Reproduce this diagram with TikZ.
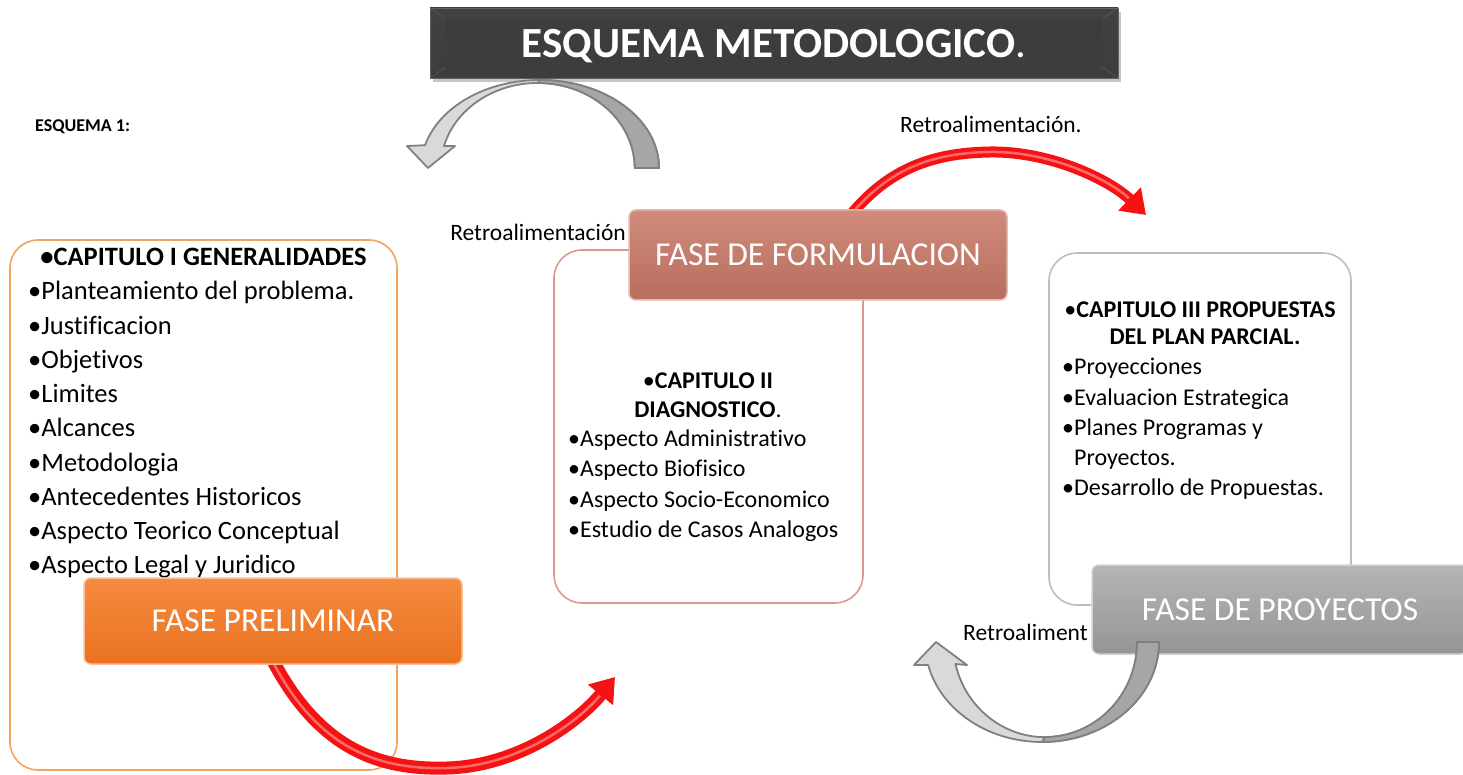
\documentclass[tikz,border=0pt]{standalone}
\usepackage{fontspec}
\setmainfont{Carlito}[Ligatures={NoCommon}]
\usetikzlibrary{arrows.meta,shadows}

\definecolor{titledark}{HTML}{3D3D3D}
\definecolor{titlerim}{HTML}{616161}
\definecolor{prelimtop}{HTML}{F58B40}
\definecolor{prelimbot}{HTML}{E9721F}
\definecolor{formtop}{HTML}{D08C7C}
\definecolor{formbot}{HTML}{B86D5D}
\definecolor{proytop}{HTML}{B5B5B5}
\definecolor{proybot}{HTML}{959595}
\definecolor{lineI}{HTML}{F5A35C}
\definecolor{lineII}{HTML}{D89C8E}
\definecolor{lineIII}{HTML}{BDBDBD}
\definecolor{arrowred}{HTML}{F51212}
\definecolor{arrowlight}{HTML}{D9D9D9}
\definecolor{arrowdark}{HTML}{A6A6A6}
\definecolor{arrowline}{HTML}{808080}

\newcommand{\titlefont}{\fontsize{43}{50}\selectfont}
\newcommand{\phasefont}{\fontsize{33.5}{40}\selectfont}
\newcommand{\bigbody}{\fontsize{26.5}{32}\selectfont}
\newcommand{\smallbody}{\fontsize{24}{29}\selectfont}
\newcommand{\retrofont}{\fontsize{23.5}{28}\selectfont}
\newcommand{\labelfont}{\fontsize{18}{22}\selectfont}

\tikzset{
  capbox/.style={draw, fill=white, rounded corners=28pt, line width=1.6pt, inner sep=0pt},
  phasebox/.style={rounded corners=7pt, text=white, font=\phasefont, inner sep=0pt, line width=1.5pt},
  retro/.style={font=\retrofont, inner sep=0pt},
  redarrow/.style={draw=arrowred, line width=13pt, -{Triangle[length=23pt,width=31pt]}},
  tubelight/.style={draw=red!35!white, line width=2.5pt, opacity=.6, shorten >=24pt},
  grayarrow/.style={draw=arrowline, line width=1.8pt, line join=round},
}

\begin{document}
\begin{tikzpicture}[x=1pt,y=-1pt]
\useasboundingbox (0,0) rectangle (1463,775);

% title
\node[minimum width=688pt, minimum height=70pt, inner sep=0pt, top color=titlerim!120!white, bottom color=titledark,
  draw=titlerim, drop shadow={shadow xshift=3pt, shadow yshift=-4pt, opacity=.45}] (title) at (774,43) {};
\fill[titledark] ([shift={(16,11)}]title.north west) rectangle ([shift={(-16,-11)}]title.south east);
\draw[titlerim] (title.north west) -- ++(16,11);
\draw[titlerim] (title.north east) -- ++(-16,11);
\draw[titlerim] (title.south west) -- ++(16,-11);
\draw[titlerim] (title.south east) -- ++(-16,-11);
\node[text=white, font=\titlefont, inner sep=0pt] (titletext) at ([yshift=-3pt]title.center) {\textbf{ESQUEMA METODOLOGICO}.};

\node[anchor=west, font=\labelfont, inner sep=0pt] (esq) at (35,127) {\textbf{ESQUEMA 1:}};

% upper feedback arrow
\draw[grayarrow, fill=arrowlight] (659,168) arc[start angle=0, end angle=165, x radius=119pt, y radius=88pt]
  -- (407,146) -- (428,168) -- (455,146) -- (444,146)
  arc[start angle=165, end angle=0, x radius=97pt, y radius=85pt] -- cycle;
\draw[grayarrow, fill=arrowdark] (659,168) arc[start angle=0, end angle=90, x radius=119pt, y radius=88pt]
  -- (537.7,83) arc[start angle=90, end angle=0, x radius=97pt, y radius=85pt] -- cycle;

% labels
\node[retro, anchor=east] (retroA) at (626,232) {Retroalimentación};
\node[retro, anchor=west] (retroB) at (900,124) {Retroalimentación.};
\node[retro, anchor=west] (retroC) at (963,632) {Retroaliment};

% chapter boxes
\node[capbox, draw=lineI, minimum width=387pt, minimum height=530pt] (capI) at (203.5,505) {};
\node[capbox, draw=lineII, minimum width=309pt, minimum height=353pt] (capII) at (708.5,426.5) {};
\node[capbox, draw=lineIII, minimum width=302pt, minimum height=352pt] (capIII) at (1200,429) {};

% chapter I
\node[anchor=base, font=\bigbody, inner sep=0pt] (capIhead) at (203.5,266) {\textbf{\textbullet CAPITULO I GENERALIDADES}};
\begin{scope}[every node/.style={anchor=base west, font=\bigbody, inner sep=0pt}]
\foreach \txt [count=\i from 0] in {Planteamiento del problema., Justificacion, Objetivos, Limites, Alcances,
  Metodologia, Antecedentes Historicos, Aspecto Teorico Conceptual, Aspecto Legal y Juridico}
  \node (capIitem\i) at (28,{300+34.2*\i}) {\textbullet\txt};
\end{scope}

% chapter II
\node[anchor=base, font=\smallbody, inner sep=0pt] (capIIhead) at (708,388) {\textbullet\textbf{CAPITULO II}};
\node[anchor=base, font=\smallbody, inner sep=0pt] (capIIsub) at (708,417) {\textbf{DIAGNOSTICO}.};
\begin{scope}[every node/.style={anchor=base west, font=\smallbody, inner sep=0pt}]
\foreach \txt [count=\i from 0] in {Aspecto Administrativo, Aspecto Biofisico, Aspecto Socio-Economico,
  Estudio de Casos Analogos}
  \node (capIIitem\i) at (568,{446+30.6*\i}) {\textbullet\txt};
\end{scope}

% chapter III
\node[anchor=base, font=\smallbody, inner sep=0pt] (capIIIhead) at (1200,317) {\textbullet\textbf{CAPITULO III PROPUESTAS}};
\node[anchor=base, font=\smallbody, inner sep=0pt] (capIIIsub) at (1205,344) {\textbf{DEL PLAN PARCIAL.}};
\begin{scope}[every node/.style={anchor=base west, font=\smallbody, inner sep=0pt}]
\node (capIIIitemA) at (1062,374) {\textbullet Proyecciones};
\node (capIIIitemB) at (1062,405) {\textbullet Evaluacion Estrategica};
\node (capIIIitemC) at (1062,435) {\textbullet Planes Programas y};
\node (capIIIitemD) at (1074,465) {Proyectos.};
\node (capIIIitemE) at (1062,495) {\textbullet Desarrollo de Propuestas.};
\end{scope}

% red arrows
\draw[redarrow] (270,655) .. controls (318,750) and (380,770) .. (447,768) .. controls (520,766) and (580,720) .. (615,677);
\draw[tubelight] (272,660) .. controls (318,750) and (380,770) .. (447,768) .. controls (520,766) and (580,720) .. (615,677);
\draw[redarrow, line width=11pt] (845,222) .. controls (885,170) and (930,153) .. (990,152) .. controls (1050,151) and (1110,180) .. (1146,215);
\draw[tubelight] (845,222) .. controls (885,170) and (930,153) .. (990,152) .. controls (1050,151) and (1110,180) .. (1146,215);

% phases
\node[phasebox, top color=prelimtop, bottom color=prelimbot, draw=prelimtop!55!white,
  minimum width=378pt, minimum height=86pt] (prelim) at (273,621) {FASE PRELIMINAR};
\node[phasebox, top color=formtop, bottom color=formbot, draw=formtop!60!white,
  minimum width=378pt, minimum height=90pt] (formul) at (818,255) {FASE DE FORMULACION};
\node[phasebox, top color=proytop, bottom color=proybot, draw=proytop!60!white,
  minimum width=376pt, minimum height=89pt] (proy) at (1280,609.5) {FASE DE PROYECTOS};

% lower feedback arrow
\draw[grayarrow, fill=arrowlight] (1159,642) arc[start angle=360, end angle=193.3, x radius=117pt, y radius=100pt]
  -- (914,665) -- (936,642) -- (967,665) -- (955.5,664)
  arc[start angle=193.3, end angle=360, x radius=92pt, y radius=95pt] -- cycle;
\draw[grayarrow, fill=arrowdark] (1159,642) arc[start angle=360, end angle=270, x radius=117pt, y radius=100pt]
  -- (1045,737) arc[start angle=270, end angle=360, x radius=92pt, y radius=95pt] -- cycle;

\end{tikzpicture}
\end{document}
